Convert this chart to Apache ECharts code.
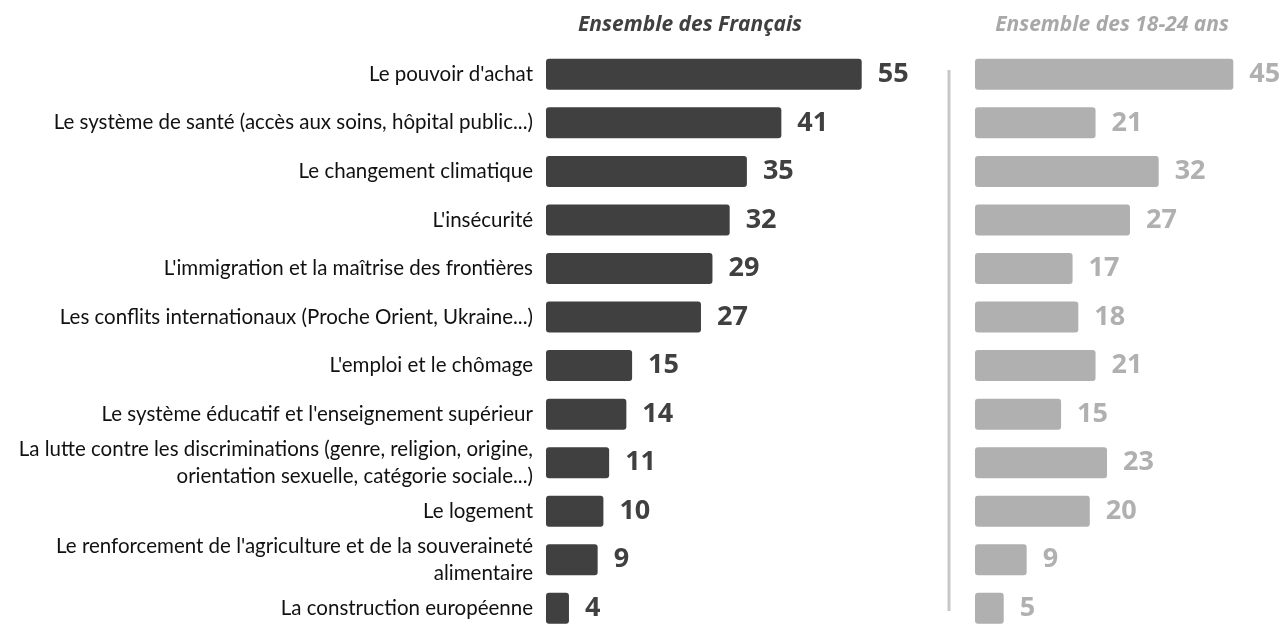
<!DOCTYPE html>
<html>
<head>
<meta charset="utf-8">
<script src="https://cdn.jsdelivr.net/npm/echarts@6/dist/echarts.min.js"></script>
<style>
html,body{margin:0;padding:0;background:#fff;}
#chart{width:1285px;height:624px;}
</style>
</head>
<body>
<div id="chart"></div>
<script>
const categories = [
  "Le pouvoir d'achat",
  "Le système de santé (accès aux soins, hôpital public...)",
  "Le changement climatique",
  "L'insécurité",
  "L'immigration et la maîtrise des frontières",
  "Les conflits internationaux (Proche Orient, Ukraine...)",
  "L'emploi et le chômage",
  "Le système éducatif et l'enseignement supérieur",
  "La lutte contre les discriminations (genre, religion, origine,\norientation sexuelle, catégorie sociale...)",
  "Le logement",
  "Le renforcement de l'agriculture et de la souveraineté\nalimentaire",
  "La construction européenne"
];
const ensembleFrancais = [55, 41, 35, 32, 29, 27, 15, 14, 11, 10, 9, 4];
const ensemble1824 = [45, 21, 32, 27, 17, 18, 21, 15, 23, 20, 9, 5];
const panelTitles = ["Ensemble des Français", "Ensemble des 18-24 ans"];

const FONT = "Lato, 'Open Sans', sans-serif";
const DARK = '#404040';
const LIGHT = '#b0b0b0';
const AXMAX = 60;
const PXU = 5.74;

const chart = echarts.init(document.getElementById('chart'), null, {renderer: 'canvas'});

const gridTop = 50, gridH = 582.6;
const grids = [
  {left: 546, top: gridTop, width: AXMAX * PXU, height: gridH, outerBoundsMode: 'none', containLabel: false},
  {left: 975, top: gridTop, width: AXMAX * PXU, height: gridH, outerBoundsMode: 'none', containLabel: false}
];

function catAxis(i, showLabels) {
  return {
    type: 'category', gridIndex: i, data: categories, inverse: true,
    axisLine: {show: false}, axisTick: {show: false},
    axisLabel: showLabels ? {
      show: true, margin: 13, color: '#111', fontFamily: FONT, fontSize: 20.5,
      lineHeight: 27, align: 'right', interval: 0
    } : {show: false}
  };
}
function valAxis(i) {
  return {type: 'value', gridIndex: i, min: 0, max: AXMAX, show: false, splitLine: {show: false}};
}
function barSeries(i, data, color) {
  return {
    type: 'bar', xAxisIndex: i, yAxisIndex: i, data: data, barWidth: 31,
    itemStyle: {color: color, borderRadius: 3},
    label: {
      show: true, position: 'right', distance: 16, color: color,
      fontFamily: "'Open Sans', sans-serif", fontWeight: 'bold', fontSize: 27
    },
    silent: true, animation: false
  };
}

chart.setOption({
  animation: false,
  grid: grids,
  xAxis: [valAxis(0), valAxis(1)],
  yAxis: [catAxis(0, true), catAxis(1, false)],
  series: [barSeries(0, ensembleFrancais, DARK), barSeries(1, ensemble1824, LIGHT)],
  graphic: [
    {type: 'text', x: 690, y: 25, style: {text: panelTitles[0], fill: DARK, font: "italic bold 21px 'Open Sans', sans-serif", textAlign: 'center', textVerticalAlign: 'middle'}},
    {type: 'text', x: 1112, y: 25, style: {text: panelTitles[1], fill: '#a8a8a8', font: "italic bold 21px 'Open Sans', sans-serif", textAlign: 'center', textVerticalAlign: 'middle'}},
    {type: 'line', shape: {x1: 949, y1: 70, x2: 949, y2: 611}, style: {stroke: '#c8c8c8', lineWidth: 3}}
  ]
});
</script>
</body>
</html>
